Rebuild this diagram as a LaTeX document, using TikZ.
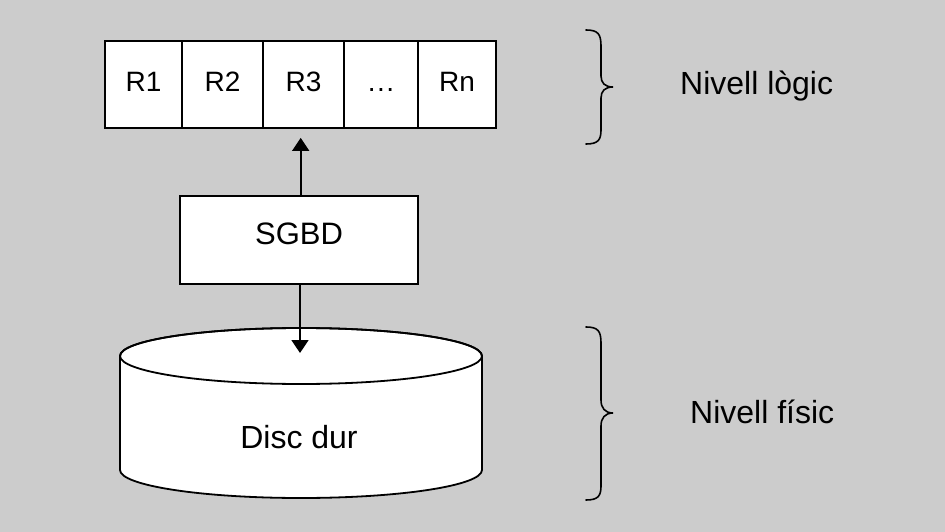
\documentclass[tikz,border=0pt]{standalone}
\usepackage{fontspec}
\setmainfont{Liberation Sans}
\usetikzlibrary{arrows.meta}
\definecolor{bg}{HTML}{CCCCCC}
\begin{document}
\begin{tikzpicture}[x=1pt,y=-1pt,
  cellbox/.style={draw, line width=1.8pt, fill=white, minimum height=87pt, inner sep=0pt, font=\fontsize{28}{30}\selectfont, text height=20pt, text depth=5pt},
  procbox/.style={draw, line width=1.8pt, fill=white, minimum width=238pt, minimum height=88pt, inner sep=0pt, font=\fontsize{31}{33}\selectfont, text height=22pt, text depth=14pt},
  conn/.style={line width=1.8pt, -{Triangle[width=17pt,length=13pt]}},
  bracepath/.style={line width=1.6pt, line cap=round},
  lvl/.style={anchor=base west, inner sep=0pt, font=\fontsize{32}{34}\selectfont}
]
\fill[bg] (0,0) rectangle (945,532);
\useasboundingbox (0,0) rectangle (945,532);

% record row
\node[cellbox, minimum width=77pt] (r1) at (143.5,84.5) {R1};
\node[cellbox, minimum width=81pt] (r2) at (222.5,84.5) {R2};
\node[cellbox, minimum width=81pt] (r3) at (303.5,84.5) {R3};
\node[cellbox, minimum width=74pt] (r4) at (381,84.5) {.\kern1.5pt.\kern1.5pt.};
\node[cellbox, minimum width=78pt] (r5) at (457,84.5) {Rn};

% SGBD
\node[procbox] (sgbd) at (299,240) {SGBD};

% disk cylinder
\filldraw[line width=1.8pt, fill=white] (120,356) -- (120,470)
  arc[start angle=180, end angle=0, x radius=181, y radius=28]
  -- (482,356)
  arc[start angle=0, end angle=-180, x radius=181, y radius=28] -- cycle;
\draw[line width=1.8pt] (301,356) ellipse [x radius=181, y radius=28];
\node[inner sep=0pt, font=\fontsize{32}{34}\selectfont] (disc) at (299,437) {Disc dur};
\coordinate (disktop) at (300,353);

% arrows
\draw[conn, shorten >=9pt] (sgbd.north -| 300.7,0) -- (300.7,0 |- r3.south);
\draw[conn] (sgbd.south -| disktop) -- (disktop);

% braces
\draw[bracepath] (586,30) .. controls (598,30) and (601,34) .. (601,46)
  -- (601,76) .. controls (601,83) and (605,87) .. (613,87)
  .. controls (605,87) and (601,91) .. (601,98)
  -- (601,130) .. controls (601,140) and (598,144) .. (586,144);
\draw[bracepath] (586,327) .. controls (598,327) and (601,331) .. (601,343)
  -- (601,400) .. controls (601,408) and (605,413) .. (613,413)
  .. controls (605,413) and (601,418) .. (601,426)
  -- (601,486) .. controls (601,496) and (598,500) .. (586,500);

% level labels
\node[lvl] (logic) at (680,95) {Nivell lògic};
\node[lvl] (fisic) at (690,423.3) {Nivell físic};
\end{tikzpicture}
\end{document}
